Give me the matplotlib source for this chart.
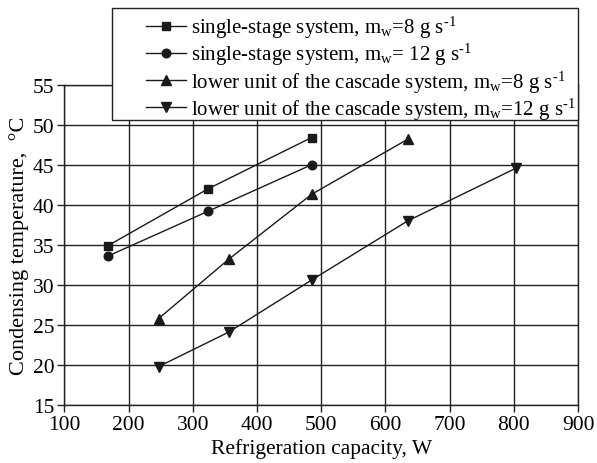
import numpy as np
import matplotlib
matplotlib.use('Agg')
import matplotlib.pyplot as plt
from matplotlib.patches import Rectangle

plt.rcParams['font.family'] = 'Liberation Serif'
plt.rcParams['mathtext.fontset'] = 'custom'
plt.rcParams['mathtext.rm'] = 'Liberation Serif'
plt.rcParams['mathtext.it'] = 'Liberation Serif:italic'

# single-stage system
x_ss = [168, 324, 485]
y_ss8 = [34.9, 42.0, 48.4]
y_ss12 = [33.6, 39.2, 45.0]
# lower unit of the cascade system
x_c8 = [247, 356, 485, 635]
y_c8 = [25.8, 33.2, 41.3, 48.2]
x_c12 = [247, 356, 485, 635, 804]
y_c12 = [19.8, 24.1, 30.6, 38.0, 44.6]

labels = [r'single-stage system, m$_\mathregular{w}$=8 g s$^\mathregular{‐1}$',
          r'single-stage system, m$_\mathregular{w}$= 12 g s$^\mathregular{‐1}$',
          r'lower unit of the cascade system, m$_\mathregular{w}$=8 g s$^\mathregular{‐1}$',
          r'lower unit of the cascade system, m$_\mathregular{w}$=12 g s$^\mathregular{‐1}$']

fig = plt.figure(figsize=(5.97, 4.64), dpi=100)
ax = fig.add_axes([0.1077, 0.125, 0.8605, 0.6903])

ink = '#1a1a1a'
h1, = ax.plot(x_ss, y_ss8, marker='s', markersize=5.5, color=ink, lw=1.0)
h2, = ax.plot(x_ss, y_ss12, marker='o', markersize=6.2, color=ink, lw=1.0)
h3, = ax.plot(x_c8, y_c8, marker='^', markersize=7, color=ink, lw=1.0)
h4, = ax.plot(x_c12, y_c12, marker='v', markersize=7, color=ink, lw=1.0)

ax.set_xlim(100, 900)
ax.set_ylim(15, 55)
ax.set_xticks(np.arange(100, 901, 100))
ax.set_yticks(np.arange(15, 56, 5))
ax.grid(True, color='#222222', lw=1.0)
ax.set_axisbelow(True)
for s in ax.spines.values():
    s.set_color('#222222')
    s.set_linewidth(1.0)
ax.tick_params(direction='out', length=5, width=1.0, labelsize=15.5, color='#222222', pad=2)

ax.set_xlabel('Refrigeration capacity, W', fontsize=15.5, labelpad=3)
ax.set_ylabel('Condensing temperature,  °C', fontsize=16, labelpad=3)

# legend box (sticks out above the axes)
box = Rectangle((112 / 597, 1 - 121 / 464), (578 - 112) / 597, (121 - 9) / 464,
                transform=fig.transFigure, facecolor='white', edgecolor='#222222',
                lw=1.0, zorder=5)
fig.patches.append(box)

leg = fig.legend([h1, h2, h3, h4], labels, loc='upper right',
                 bbox_to_anchor=(576 / 597, 1 - 15 / 464), bbox_transform=fig.transFigure,
                 fontsize=15, frameon=False, handlelength=1.92, handletextpad=0.25,
                 labelspacing=0.05, borderpad=0.0, borderaxespad=0.0)
leg.set_zorder(6)

fig.savefig('out.png', dpi=100)
